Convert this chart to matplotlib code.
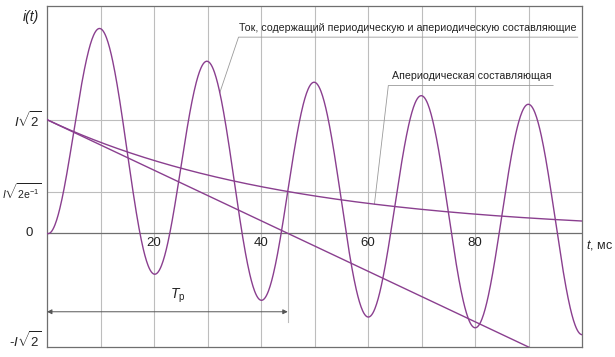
import matplotlib

matplotlib.use("Agg")
import matplotlib.pyplot as plt  # noqa: E402
import numpy as np  # noqa: E402

plt.rcParams.update({
    "font.family": ["Liberation Sans", "DejaVu Sans"],
    "font.size": 9,
    "mathtext.fontset": "custom",
    "mathtext.rm": "Liberation Sans",
    "mathtext.it": "Liberation Sans:italic",
    "mathtext.bf": "Liberation Sans:bold",
})

# values: time in ms, current in units of I*sqrt(2)
t_ms = np.linspace(0, 100, 1001)
period_ms = 20.0        # 50 Hz periodic component
tau_ms = 45.0           # T_p: tangent reaches zero here
grid_ms = [10, 20, 30, 40, 50, 60, 70, 80, 90]
x_labels = [20, 40, 60, 80]
y_levels = [1.0, float(np.exp(-1)), 0.0, -1.0]
y_labels = [r"$I\sqrt{2}$", r"$I\sqrt{2\mathrm{e}^{-1}}$", "0", r"-$I\sqrt{2}$"]
y_sizes = [9.5, 7.6, 9.5, 9.5]
y_shift = [-4, -4, -10, -4]
label_full = "Ток, содержащий периодическую и апериодическую составляющие"
label_aper = "Апериодическая составляющая"

PURPLE = "#8a3f8f"
GRID = "#bdbdbd"
AXIS = "#6f6f6f"
LEADER = "#9a9a9a"
TEXT = "#222222"

aperiodic = np.exp(-t_ms / tau_ms)
total = aperiodic - np.cos(2 * np.pi * t_ms / period_ms)
tangent = 1.0 - t_ms / tau_ms

fig = plt.figure(figsize=(6.15, 3.57), dpi=100)
ax = fig.add_axes([47 / 615, 10 / 357, 535 / 615, 341 / 357])
ax.set_xlim(0, 100)
ax.set_ylim(-1, 2)
ax.set_xticks([])
ax.set_yticks([])
for sp in ax.spines.values():
    sp.set_color(AXIS)
    sp.set_linewidth(0.9)

for g in grid_ms:
    ax.axvline(g, color=GRID, lw=0.8, zorder=1)
for lvl in y_levels[:2]:
    ax.axhline(lvl, color=GRID, lw=0.8, zorder=1)
ax.axhline(0, color=AXIS, lw=0.9, zorder=1)

ax.plot(t_ms, total, color=PURPLE, lw=1.0, zorder=3)
ax.plot(t_ms, aperiodic, color=PURPLE, lw=1.0, zorder=3)
ax.plot(t_ms, tangent, color=PURPLE, lw=1.0, zorder=3)

# y labels left of the axis
for lvl, lab, fs, dx in zip(y_levels, y_labels, y_sizes, y_shift):
    dy = 5 if lvl == -1.0 else 0
    ax.annotate(lab, xy=(0, lvl), xycoords=ax.get_yaxis_transform(),
                xytext=(dx, dy), textcoords="offset points",
                ha="right", va="center", fontsize=fs, color=TEXT)
ax.annotate("i(t)", xy=(0, 1.9), xycoords=ax.get_yaxis_transform(),
            xytext=(-6, 0), textcoords="offset points",
            ha="right", va="center", fontsize=10, style="italic", color=TEXT)

# x labels under the zero line
for x in x_labels:
    ax.annotate(str(x), xy=(x, 0), xytext=(0, -3), textcoords="offset points",
                ha="center", va="top", fontsize=9.5, color=TEXT)
ax.annotate(r"$t$, мс", xy=(100, 0), xytext=(3, -3), textcoords="offset points",
            ha="left", va="top", fontsize=9, color=TEXT, annotation_clip=False)

# T_p marker
y_arrow = -0.69
ax.plot([tau_ms, tau_ms], [np.exp(-1), -0.78], color=GRID, lw=0.8, zorder=2)
ax.annotate("", xy=(tau_ms, y_arrow), xytext=(0, y_arrow),
            arrowprops=dict(arrowstyle="<|-|>", color="#555555", lw=0.7,
                            mutation_scale=7, shrinkA=0, shrinkB=0))
ax.text(24.4, -0.55, r"$T_\mathrm{р}$", fontsize=10, ha="center", va="center",
        color=TEXT)

# leader for total current
t_hit = 32.3
y_hit = np.exp(-t_hit / tau_ms) - np.cos(2 * np.pi * t_hit / period_ms)
ax.plot([t_hit, 35.8, 99.2], [y_hit, 1.726, 1.726], color=LEADER, lw=0.6, zorder=2)
ax.text(35.8, 1.765, label_full, fontsize=7.7, ha="left", va="bottom", color=TEXT)

# leader for aperiodic component
t_hit2 = 61.2
ax.plot([t_hit2, 63.8, 94.6], [np.exp(-t_hit2 / tau_ms), 1.30, 1.30],
        color=LEADER, lw=0.6, zorder=2)
ax.text(64.5, 1.34, label_aper, fontsize=7.7, ha="left", va="bottom", color=TEXT)

fig.savefig("out.png", dpi=100)
